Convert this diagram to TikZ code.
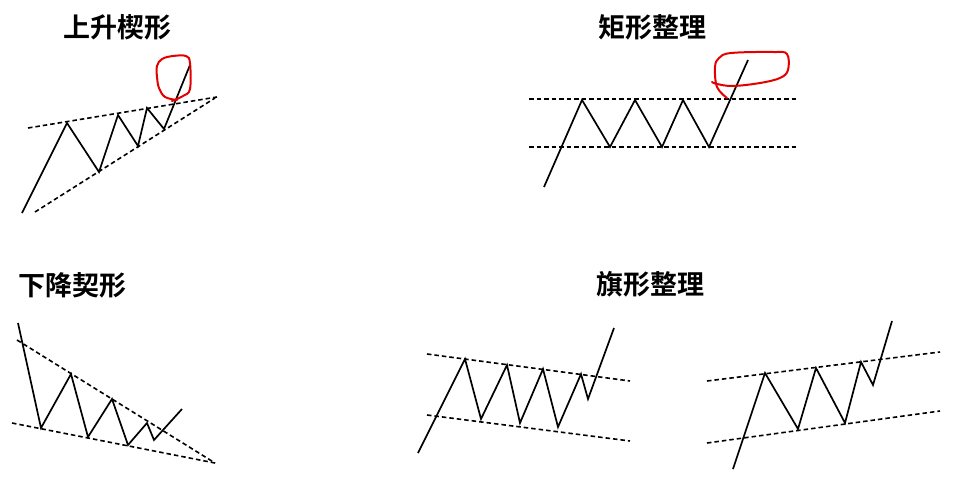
\documentclass[tikz,border=0pt]{standalone}
\usepackage{fontspec}
\newfontfamily\cjk{Noto Sans CJK SC Bold}
\begin{document}
\begin{tikzpicture}[x=1pt,y=-1pt,
  title/.style={font=\cjk\fontsize{27}{29}\selectfont, inner sep=0pt},
  price/.style={line width=1.7pt, line join=miter},
  trend/.style={line width=1.6pt, dash pattern=on 4.5pt off 3pt},
  redmark/.style={draw=red!90!black, line width=2pt, line join=round, line cap=round}]
\useasboundingbox[fill=white] (0,0) rectangle (964,484);

% ---------- titles ----------
\node[title] (t1) at (117,27) {上升楔形};
\node[title] (t2) at (652,27) {矩形整理};
\node[title] (t3) at (72,285) {下降契形};
\node[title] (t4) at (650,284) {旗形整理};

% ---------- rising wedge ----------
\coordinate (a0) at (22,213);
\coordinate (a1) at (67,123);
\coordinate (a2) at (99,172);
\coordinate (a3) at (118,115);
\coordinate (a4) at (138,146);
\coordinate (a5) at (147,108);
\coordinate (a6) at (164,129);
\coordinate (a7) at (190,65);
\coordinate (au0) at (28,128);
\coordinate (au1) at (217,97);
\coordinate (al0) at (35,212);
\coordinate (al1) at (215,98);
\draw[trend] (au0) -- (au1);
\draw[trend] (al0) -- (al1);
\draw[price] (a0) -- (a1) -- (a2) -- (a3) -- (a4) -- (a5) -- (a6) -- (a7);
\draw[redmark] plot[smooth, tension=0.6] coordinates {(177,100) (165,97) (159,88) (157,77) (157,66) (162,59) (173,56) (186,56) (190,63) (190,89) (183,96) (172,101)};

% ---------- rectangle ----------
\coordinate (b0) at (544,187);
\coordinate (b1) at (582,100);
\coordinate (b2) at (610,147);
\coordinate (b3) at (635,100);
\coordinate (b4) at (662,147);
\coordinate (b5) at (683,100);
\coordinate (b6) at (709,147);
\coordinate (b7) at (748,60);
\coordinate (bu0) at (529,99);
\coordinate (bu1) at (797,99);
\coordinate (bl0) at (529,147);
\coordinate (bl1) at (797,147);
\draw[trend] (bu0) -- (bu1);
\draw[trend] (bl0) -- (bl1);
\draw[price] (b0) -- (b1) -- (b2) -- (b3) -- (b4) -- (b5) -- (b6) -- (b7);
\draw[redmark] plot[smooth, tension=0.6] coordinates {(727,98) (717,87) (715,67) (719,58) (731,53) (773,52) (787,54) (788,70) (780,78) (760,83) (733,86) (717,84) (712,82)};

% ---------- falling wedge ----------
\coordinate (c0) at (18,323);
\coordinate (c1) at (41,428);
\coordinate (c2) at (71,374);
\coordinate (c3) at (88,437);
\coordinate (c4) at (112,399);
\coordinate (c5) at (128,445);
\coordinate (c6) at (147,423);
\coordinate (c7) at (154,440);
\coordinate (c8) at (182,409);
\coordinate (cu0) at (17,340);
\coordinate (cl0) at (12,423);
\coordinate (cx) at (215,463);
\draw[trend] (cu0) -- (cx);
\draw[trend] (cl0) -- (cx);
\draw[price] (c0) -- (c1) -- (c2) -- (c3) -- (c4) -- (c5) -- (c6) -- (c7) -- (c8);

% ---------- flag (down-sloping) ----------
\coordinate (d0) at (418,453);
\coordinate (d1) at (465,359);
\coordinate (d2) at (481,419);
\coordinate (d3) at (507,365);
\coordinate (d4) at (520,423);
\coordinate (d5) at (543,369);
\coordinate (d6) at (558,427);
\coordinate (d7) at (581,374);
\coordinate (d8) at (588,399);
\coordinate (d9) at (614,328);
\coordinate (du0) at (427,354);
\coordinate (du1) at (630,381);
\coordinate (dl0) at (427,415);
\coordinate (dl1) at (630,441);
\draw[trend] (du0) -- (du1);
\draw[trend] (dl0) -- (dl1);
\draw[price] (d0) -- (d1) -- (d2) -- (d3) -- (d4) -- (d5) -- (d6) -- (d7) -- (d8) -- (d9);

% ---------- flag (up-sloping) ----------
\coordinate (e0) at (733,469);
\coordinate (e1) at (765,373);
\coordinate (e2) at (798,429);
\coordinate (e3) at (816,368);
\coordinate (e4) at (845,423);
\coordinate (e5) at (861,362);
\coordinate (e6) at (873,385);
\coordinate (e7) at (892,321);
\coordinate (eu0) at (707,381);
\coordinate (eu1) at (940,352);
\coordinate (el0) at (707,443);
\coordinate (el1) at (940,411);
\draw[trend] (eu0) -- (eu1);
\draw[trend] (el0) -- (el1);
\draw[price] (e0) -- (e1) -- (e2) -- (e3) -- (e4) -- (e5) -- (e6) -- (e7);
\end{tikzpicture}
\end{document}
